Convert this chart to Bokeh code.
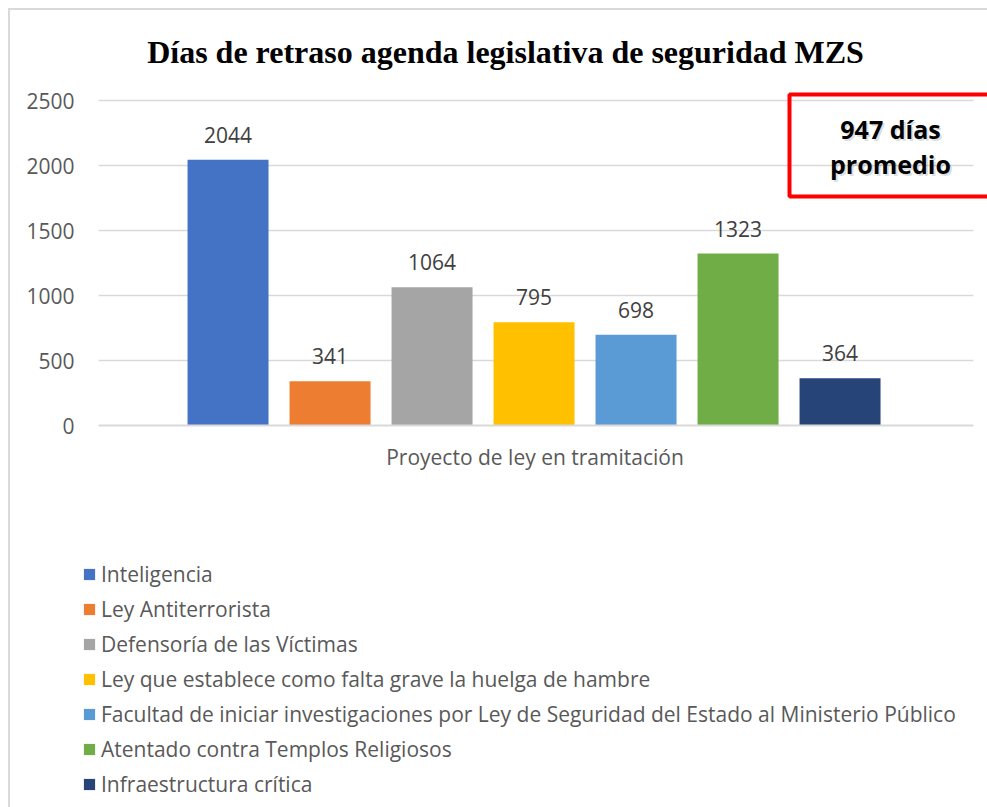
from bokeh.plotting import figure
from bokeh.layouts import column
from bokeh.models import (Range1d, FixedTicker, Legend, LegendItem, LabelSet, Label,
                          ColumnDataSource, BoxAnnotation)
from bokeh.core.properties import value
from bokeh.embed import file_html
from bokeh.resources import INLINE

names = ["Inteligencia", "Ley Antiterrorista", "Defensoría de las Víctimas",
         "Ley que establece como falta grave la huelga de hambre",
         "Facultad de iniciar investigaciones por Ley de Seguridad del Estado al Ministerio Público",
         "Atentado contra Templos Religiosos", "Infraestructura crítica"]
values = [2044, 341, 1064, 795, 698, 1323, 364]
colors = ["#4472C4", "#ED7D31", "#A5A5A5", "#FFC000", "#5B9BD5", "#70AD47", "#264478"]
y_ticks = [0, 500, 1000, 1500, 2000, 2500]
title_text = "Días de retraso agenda legislativa de seguridad MZS"
x_label = "Proyecto de ley en tramitación"
avg_line1 = "947 días"
avg_line2 = "promedio"

FONT = "Open Sans"
FS = "21px"
idx = list(range(len(values)))
src = ColumnDataSource(dict(x=idx, top=values, color=colors, label=[str(v) for v in values]))

# geometry: page pixels -> data units
PX_PER_X = 102.0
PX_PER_Y = 325.0 / 2500
X_VIS0 = -1.27                          # data x at the left end of the gridlines
X0 = X_VIS0 - 16 / PX_PER_X             # frame starts a bit further left (legend alignment)
X_END = X_VIS0 + 889 / PX_PER_X         # frame reaches the window's right edge
X_AXIS_END = X_VIS0 + 875 / PX_PER_X    # chart area ends here
Y_END = 2500 + 90 / PX_PER_Y            # frame reaches the top of the chart (title inside)

def px_x(px):
    return X_VIS0 + (px - 98) / PX_PER_X

def px_y(py):
    return (425 - py) / PX_PER_Y

W = 977
H1 = 530
H2 = 797 - H1

p = figure(width=W, height=H1, output_backend="svg", toolbar_location=None,
           x_range=Range1d(X0, X_END), y_range=Range1d(0, Y_END),
           min_border_left=72, min_border_right=0, min_border_top=0, min_border_bottom=H1 - 415)
p.outline_line_color = None
p.background_fill_color = "white"
p.border_fill_color = "white"

p.add_layout(Label(x=px_x(505), y=px_y(51), text=title_text, text_align="center",
                   text_baseline="middle", text_font="Liberation Serif", text_font_size="32px",
                   text_font_style="bold", text_color="black"))

r = p.vbar(x="x", top="top", width=0.794, fill_color="color", line_color=None, source=src)

p.add_layout(LabelSet(x="x", y="top", text="label", source=src, text_align="center",
                      text_baseline="middle", y_offset=25, text_font=value(FONT),
                      text_font_size=FS, text_color="#404040"))

p.yaxis.ticker = FixedTicker(ticks=y_ticks)
p.yaxis.axis_line_color = None
p.yaxis.major_tick_line_color = None
p.yaxis.minor_tick_line_color = None
p.yaxis.major_tick_out = 0
p.yaxis.major_tick_in = 0
p.yaxis.major_label_standoff = 8
p.yaxis.major_label_text_font = FONT
p.yaxis.major_label_text_font_size = FS
p.yaxis.major_label_text_color = "#595959"

p.xaxis.ticker = FixedTicker(ticks=[])
p.xaxis.bounds = (X_VIS0, X_AXIS_END)
p.xaxis.axis_line_color = "#d9d9d9"
p.xaxis.axis_line_width = 2
p.xaxis.major_tick_line_color = None
p.xaxis.minor_tick_line_color = None
p.xaxis.major_tick_out = 0
p.xaxis.axis_label = x_label
p.xaxis.axis_label_text_font = FONT
p.xaxis.axis_label_text_font_size = FS
p.xaxis.axis_label_text_font_style = "normal"
p.xaxis.axis_label_text_color = "#595959"
p.xaxis.axis_label_standoff = 17

p.xgrid.grid_line_color = None
p.ygrid.ticker = FixedTicker(ticks=y_ticks)
p.ygrid.grid_line_color = "#d9d9d9"
p.ygrid.grid_line_width = 1.5

# white strips: gridlines run only across the chart area
p.add_layout(BoxAnnotation(left=X_AXIS_END, right=X_END + 1, bottom=-10, top=Y_END + 10,
                           fill_color="white", fill_alpha=1, line_color=None, level="underlay"))
p.add_layout(BoxAnnotation(left=X0 - 1, right=X_VIS0, bottom=-10, top=Y_END + 10,
                           fill_color="white", fill_alpha=1, line_color=None, level="underlay"))

# average box (red frame, open past the right edge)
p.add_layout(BoxAnnotation(left=px_x(789), right=X_END + 1, top=px_y(94), bottom=px_y(196),
                           fill_alpha=0, line_color="#FF0000", line_alpha=1, line_width=4))
for txt, py in [(avg_line1, 128), (avg_line2, 163)]:
    p.add_layout(Label(x=px_x(890), y=px_y(py), text=txt, text_align="center",
                       text_baseline="middle", text_font=FONT, text_font_size="25px",
                       text_font_style="bold", text_color="#000000", text_alpha=0.15,
                       x_offset=2, y_offset=-2))
    p.add_layout(Label(x=px_x(890), y=px_y(py), text=txt, text_align="center",
                       text_baseline="middle", text_font=FONT, text_font_size="25px",
                       text_font_style="bold", text_color="#000000"))

# legend panel (second figure; its swatches come from bars kept outside its view)
p2 = figure(width=W, height=H2, output_backend="svg", toolbar_location=None,
            x_range=Range1d(-101, -100), y_range=Range1d(-101, -100),
            x_axis_location=None, y_axis_location=None,
            min_border_left=0, min_border_right=0, min_border_top=0, min_border_bottom=0)
p2.outline_line_color = None
p2.grid.visible = False
p2.background_fill_color = "white"
p2.border_fill_color = "white"
r2 = p2.vbar(x="x", top="top", width=0.794, fill_color="color", line_color=None, source=src)
items = [LegendItem(label=n, renderers=[r2], index=i) for i, n in enumerate(names)]
legend = Legend(items=items, location=(0, 9), orientation="vertical",
                glyph_width=14, glyph_height=14, label_height=24, spacing=7,
                label_standoff=5, padding=0, margin=0, border_line_color=None,
                background_fill_alpha=0, label_text_font=FONT,
                label_text_font_size=FS, label_text_color="#595959")
p2.add_layout(legend, "center")

layout = column(p, p2, spacing=0,
                styles={"margin-left": "8px", "margin-top": "8px",
                        "border-left": "2px solid #d9d9d9", "border-top": "2px solid #d9d9d9"})

open("out.html", "w").write(file_html(layout, INLINE))
